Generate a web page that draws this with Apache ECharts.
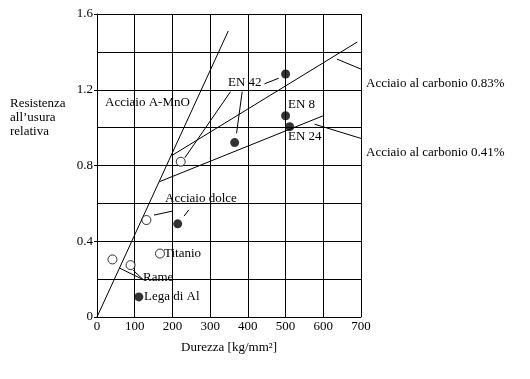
<!DOCTYPE html>
<html><head><meta charset="utf-8">
<script src="https://cdn.jsdelivr.net/npm/echarts@6/dist/echarts.min.js"></script>
<style>html,body{margin:0;padding:0;background:#fff}#c{width:530px;height:379px}</style>
</head><body><div id="c"></div>
<script>
// Data (hardness kg/mm², relative wear resistance)
const filledPoints = [[500,1.283],[500,1.063],[511,1.005],[365,0.921],[214,0.492],[111,0.106]];
const openPoints = [[222,0.82],[131,0.512],[167,0.335],[41,0.304],[89,0.274]];
const lineMnO = [[0,0],[348,1.51]];
const lineC083 = [[198,0.852],[690,1.452]];
const lineC041 = [[165,0.714],[599,1.062]];
const leaders = [
  [[444,1.231],[482,1.261]],
  [[354,1.190],[233,0.841]],
  [[385,1.190],[370,0.970]],
  [[636,1.362],[762,1.258]],
  [[577,1.018],[759,0.907]],
  [[151,0.538],[199,0.559]],
  [[231,0.533],[243,0.565]],
  [[59,0.259],[122,0.198]],
  [[96,0.247],[122,0.198]]
];
const xTicks = [0,100,200,300,400,500,600,700];
const yTicks = [0,0.4,0.8,1.2,1.6];
const texts = [
  {t:'Resistenza', x:10, y:104},
  {t:'all\u2019usura', x:10, y:118},
  {t:'relativa', x:10, y:132},
  {t:'Acciaio A-MnO', x:105, y:103},
  {t:'EN 42', x:228, y:83},
  {t:'EN 8', x:288, y:105},
  {t:'EN 24', x:288, y:137},
  {t:'Acciaio al carbonio 0.83%', x:366, y:84},
  {t:'Acciaio al carbonio 0.41%', x:366, y:153},
  {t:'Acciaio dolce', x:165, y:199},
  {t:'Titanio', x:164, y:254},
  {t:'Rame', x:143, y:278},
  {t:'Lega di Al', x:144, y:297}
];
const FONT = '"Liberation Serif", "DejaVu Serif", serif';
const lineStyle = {color:'#000', width:1};
function lineSeries(d){ return {type:'line', data:d, symbol:'none', clip:false, lineStyle:lineStyle, silent:true, animation:false}; }
const series = [lineSeries(lineMnO), lineSeries(lineC083), lineSeries(lineC041)];
leaders.forEach(l => series.push(lineSeries(l)));
series.push({type:'scatter', data:openPoints, symbol:'circle', symbolSize:9,
  itemStyle:{color:'#fff', borderColor:'#000', borderWidth:1}, animation:false, z:5});
series.push({type:'scatter', data:filledPoints, symbol:'circle', symbolSize:9,
  itemStyle:{color:'#000'}, animation:false, z:5});
const chart = echarts.init(document.getElementById('c'), null, {renderer:'canvas'});
chart.setOption({
  backgroundColor:'#fff',
  animation:false,
  grid:{left:97, top:14, right:169, bottom:62, containLabel:false},
  xAxis:{type:'value', min:0, max:700, interval:100,
    name:'Durezza [kg/mm\u00b2]', nameLocation:'middle', nameGap:24,
    nameTextStyle:{color:'#000', fontFamily:FONT, fontSize:13},
    axisLine:{show:true, lineStyle:{color:'#000', width:1}},
    axisTick:{show:false},
    axisLabel:{color:'#000', fontFamily:FONT, fontSize:13, margin:3,
      formatter:v => xTicks.includes(v) ? String(v) : ''},
    splitLine:{show:true, lineStyle:{color:'#000', width:1}}},
  yAxis:{type:'value', min:0, max:1.6, interval:0.4,
    axisLine:{show:true, lineStyle:{color:'#000', width:1}},
    axisTick:{show:true, length:3, lineStyle:{color:'#000'}},
    axisLabel:{color:'#000', fontFamily:FONT, fontSize:13, margin:4,
      formatter:v => { const m = yTicks.find(t => Math.abs(t-v)<1e-6); return m===undefined ? '' : (m===0?'0':m.toFixed(1)); }},
    splitLine:{show:true, lineStyle:{color:'#000', width:1}},
    minorTick:{show:false, splitNumber:2},
    minorSplitLine:{show:true, lineStyle:{color:'#000', width:1}}},
  series:series,
  graphic: texts.map(o => ({type:'text', left:o.x, top:o.y-7, z:10,
    style:{text:o.t, fill:'#000', font:'13px ' + FONT}}))
});
</script></body></html>
